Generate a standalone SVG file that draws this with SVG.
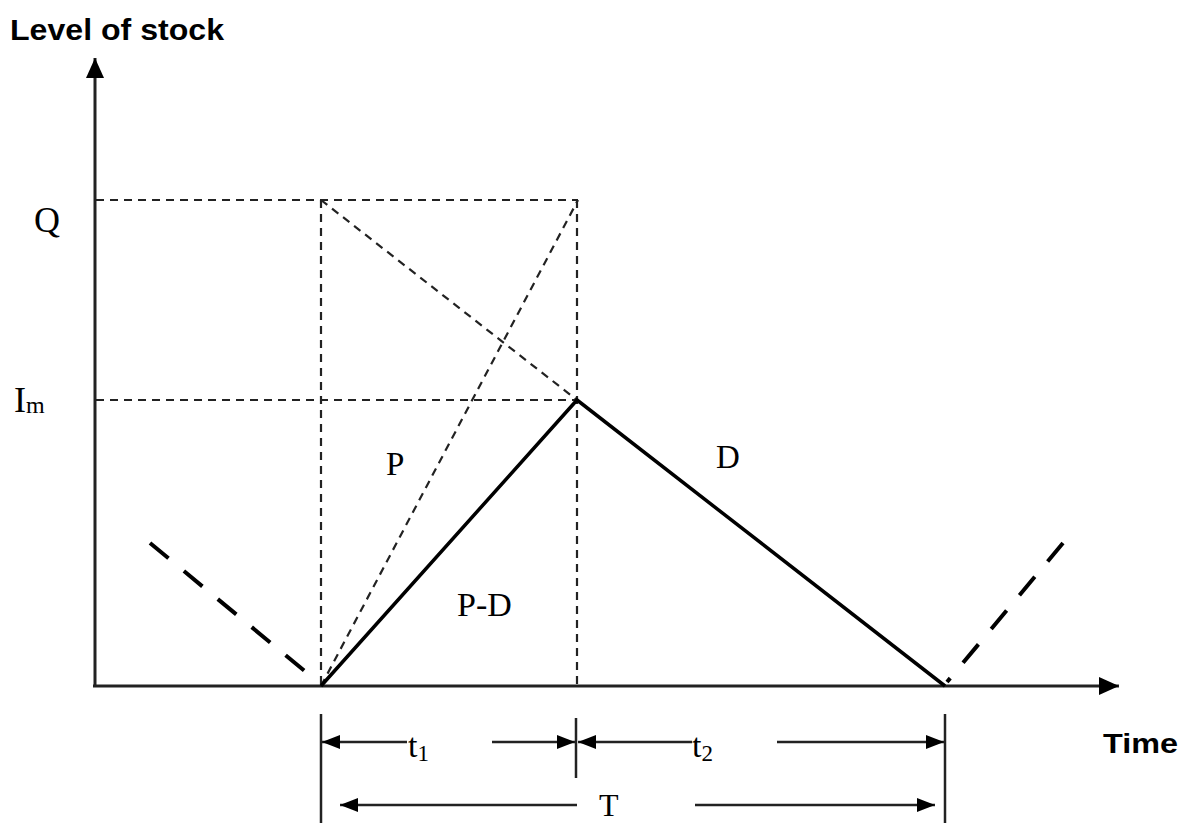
<svg xmlns="http://www.w3.org/2000/svg" width="1191" height="823" viewBox="0 0 1191 823">
<defs>
<style>
.axis{stroke:#222;stroke-width:3;fill:none}
.thin{stroke:#222;stroke-width:2.2;stroke-dasharray:8,6;fill:none}
.solid{stroke:#000;stroke-width:3.5;fill:none}
.thick{stroke:#000;stroke-width:4;stroke-dasharray:24,20;fill:none}
.dim{stroke:#222;stroke-width:2.5;fill:none}
.serif{font-family:"Liberation Serif","Times New Roman",serif;fill:#000}
.sans{font-family:"Liberation Sans",Arial,sans-serif;font-weight:bold;fill:#000}
</style>
<marker id="ah" viewBox="0 0 20 20" refX="20" refY="10" markerWidth="20" markerHeight="20" markerUnits="userSpaceOnUse" orient="auto"><path d="M0,1 L20,10 L0,19 Z" fill="#000"/></marker>
<marker id="dh" viewBox="0 0 18 16" refX="18" refY="8" markerWidth="18" markerHeight="16" markerUnits="userSpaceOnUse" orient="auto"><path d="M0,1 L18,8 L0,15 Z" fill="#000"/></marker>
</defs>
<rect width="1191" height="823" fill="#fff"/>
<g id="connectors">
<line class="axis" x1="95" y1="686" x2="95" y2="58" marker-end="url(#ah)"/>
<line class="axis" x1="93" y1="686" x2="1119" y2="686" marker-end="url(#ah)"/>
<line class="thin" x1="96" y1="200" x2="578" y2="200"/>
<line class="thin" x1="96" y1="400" x2="577" y2="400"/>
<line class="thin" x1="321" y1="200" x2="321" y2="686"/>
<line class="thin" x1="577" y1="200" x2="577" y2="686"/>
<line class="thin" x1="321" y1="200" x2="577" y2="400"/>
<line class="thin" x1="321" y1="686" x2="578" y2="200"/>
<polyline class="solid" points="321,686 577,400 945,686"/>
<line class="thick" x1="150" y1="543" x2="318" y2="682"/>
<line class="thick" x1="1063" y1="543" x2="947" y2="682"/>
<line class="dim" x1="321" y1="714" x2="321" y2="823"/>
<line class="dim" x1="576" y1="718" x2="576" y2="778"/>
<line class="dim" x1="945" y1="714" x2="945" y2="823"/>
<line class="dim" x1="407" y1="742" x2="322" y2="742" marker-end="url(#dh)"/>
<line class="dim" x1="492" y1="742" x2="575" y2="742" marker-end="url(#dh)"/>
<line class="dim" x1="692" y1="742" x2="578" y2="742" marker-end="url(#dh)"/>
<line class="dim" x1="777" y1="742" x2="944" y2="742" marker-end="url(#dh)"/>
<line class="dim" x1="577" y1="805" x2="340" y2="805" marker-end="url(#dh)"/>
<line class="dim" x1="695" y1="805" x2="935" y2="805" marker-end="url(#dh)"/>
</g>
<g id="labels">
<text class="sans" x="10" y="40" font-size="29" textLength="214" lengthAdjust="spacingAndGlyphs">Level of stock</text>
<text class="sans" x="1103" y="753" font-size="28" textLength="75" lengthAdjust="spacingAndGlyphs">Time</text>
<text class="serif" x="34" y="232" font-size="36">Q</text>
<text class="serif" x="14" y="412" font-size="36">I<tspan font-size="24" dy="1">m</tspan></text>
<text class="serif" x="386" y="475" font-size="33">P</text>
<text class="serif" x="716" y="468" font-size="33">D</text>
<text class="serif" x="457" y="616" font-size="34">P-D</text>
<text class="serif" x="408" y="757" font-size="34">t<tspan font-size="23" dy="4">1</tspan></text>
<text class="serif" x="692" y="757" font-size="34">t<tspan font-size="23" dy="4">2</tspan></text>
<text class="serif" x="599" y="816" font-size="32">T</text>
</g>
</svg>
